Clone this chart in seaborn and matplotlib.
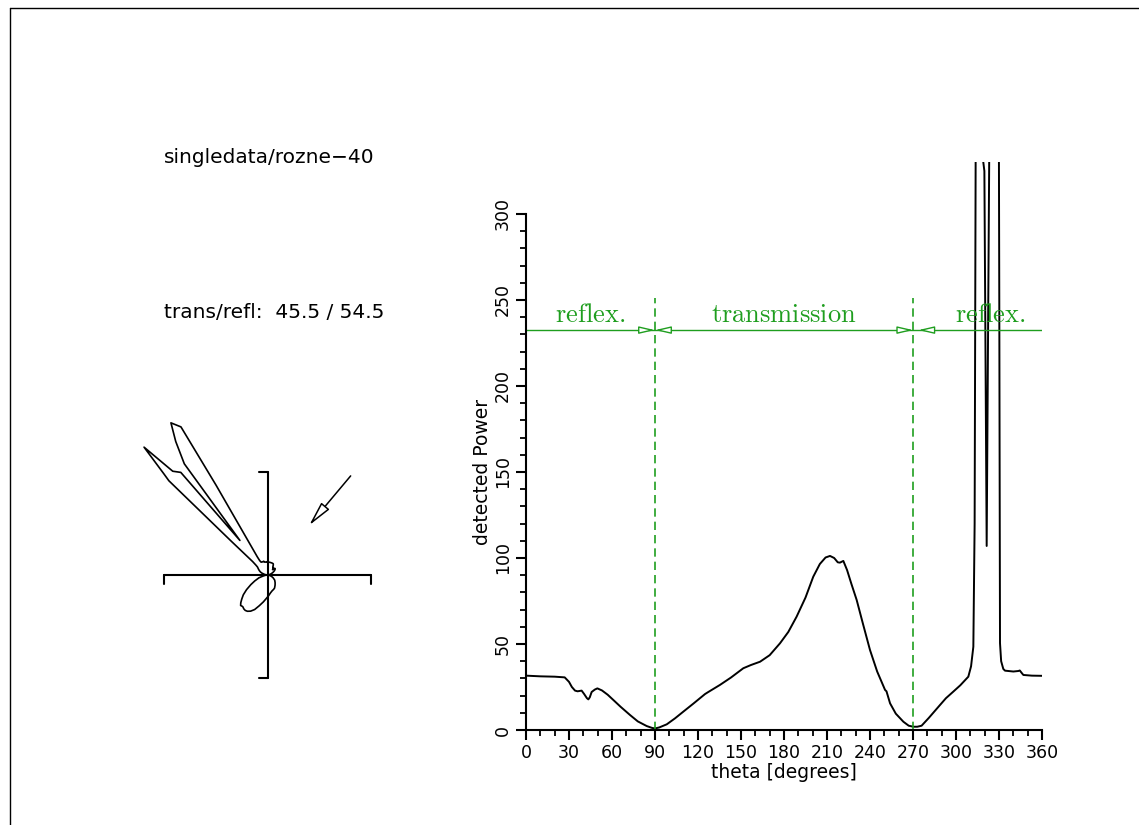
import numpy as np
import pandas as pd
import matplotlib
matplotlib.use("Agg")
import matplotlib.pyplot as plt
import seaborn as sns
from matplotlib.lines import Line2D
from matplotlib.ticker import MultipleLocator, FixedLocator

# ---------------- data ----------------
theta_deg = [0, 10, 20, 27, 30, 32, 34.2, 36, 38.8, 40.5, 42.5, 43.5, 44.5, 45.8, 48, 49.8,
             53, 57, 61, 66, 72.6, 78, 84.2, 88, 90, 93, 98.2, 104, 109.8, 117, 124.9, 127,
             135.3, 143, 151.6, 157, 163.3, 170, 177.2, 183, 188.8, 195, 200.4, 205, 209,
             212.1, 215, 217.5, 219, 221.4, 224, 227, 230.7, 235, 240, 245, 250.5, 251.5,
             254, 258, 263.3, 267, 270.2, 273, 276, 281, 288.8, 293, 298.1, 303, 308.6,
             310.5, 312.1, 313.0, 313.7, 314.3, 316.0, 317.6, 319.8, 321.4, 323.2, 325.5,
             327.6, 329.7, 330.2, 330.7, 331.5, 333, 334.2, 340, 343.5, 344.5, 346, 347,
             353, 360]
power = [31.6, 31.2, 31.0, 30.6, 28.0, 25.0, 22.9, 22.5, 22.9, 21.0, 18.5, 17.8, 19.0, 22.1,
         23.5, 24.2, 23.0, 20.5, 17.4, 13.5, 8.7, 5.0, 2.3, 1.2, 0.9, 1.5, 3.3, 6.8, 10.7,
         15.5, 20.9, 22.0, 26.2, 30.5, 35.9, 37.8, 39.7, 43.5, 50.4, 57.0, 65.9, 77.0, 89.1,
         96.5, 100.3, 101.2, 100.0, 97.5, 97.3, 98.3, 93.0, 85.0, 75.6, 62.0, 46.5, 34.0,
         23.3, 22.5, 15.5, 9.5, 4.8, 2.5, 1.9, 1.9, 2.5, 7.0, 14.5, 18.5, 22.3, 26.0, 31.0,
         37.0, 48.4, 120.0, 330.0, 350.0, 430.0, 340.0, 325.0, 107.0, 336.0, 392.0, 436.0,
         415.0, 250.0, 50.5, 40.0, 35.5, 34.5, 34.0, 34.3, 34.6, 33.0, 32.0, 31.6, 31.5]

x_ticks = list(range(0, 361, 30))
y_ticks = list(range(0, 301, 50))
y_minor = list(range(0, 301, 10))
region_labels = ["reflex.", "transmission", "reflex."]
region_label_x = [45, 180, 324]
region_bounds = [90, 270]
header_text = "singledata/rozne\u221240"
ratio_text = "trans/refl:  45.5 / 54.5"
incident_angle = 40

df = pd.DataFrame({"theta": theta_deg, "power": power})
df["theta_rad"] = np.deg2rad(df["theta"])

# ---------------- style ----------------
sns.set_style("ticks")
plt.rcParams["font.family"] = ["DejaVu Sans"]
plt.rcParams["mathtext.fontset"] = "cm"
for k in ["text.color", "axes.labelcolor", "xtick.color", "ytick.color", "axes.edgecolor"]:
    plt.rcParams[k] = "black"
GREEN = "#1f9e1f"

W, H = 1139, 825
fig = plt.figure(figsize=(W / 100, H / 100), dpi=100)
fig.patch.set_facecolor("white")


def fx(px):
    return px / W


def fy(py):
    return 1 - py / H


# frame
fig.add_artist(Line2D([fx(10), 1], [fy(8), fy(8)], color="black", lw=1))
fig.add_artist(Line2D([fx(10), fx(10)], [0, fy(8)], color="black", lw=1))

# ---------------- main axes ----------------
ax = fig.add_axes([fx(526), fy(730), 516 / W, (730 - 162.4) / H])
ax.set_facecolor("none")
sns.lineplot(data=df, x="theta", y="power", ax=ax, color="black", lw=1.4,
             sort=False, estimator=None)
ax.set_xlim(0, 360)
ax.set_ylim(0, 330)
ax.set_xticks(x_ticks)
ax.set_yticks(y_ticks)
ax.xaxis.set_minor_locator(MultipleLocator(10))
ax.yaxis.set_minor_locator(FixedLocator(y_minor))
for s in ["top", "right"]:
    ax.spines[s].set_visible(False)
ax.spines["left"].set_bounds(0, 300)
for s in ["left", "bottom"]:
    ax.spines[s].set_linewidth(1.5)
ax.tick_params(which="major", direction="out", length=7, width=1.5, labelsize=12.5, pad=3,
               colors="black")
ax.tick_params(which="minor", direction="out", length=4, width=1.3, colors="black")
for lab in ax.get_yticklabels():
    lab.set_rotation(90)
    lab.set_va("center")
ax.set_ylabel("detected Power", fontsize=13.5, color="black")
ax.yaxis.set_label_coords(-0.066, 150 / 330)
ax.set_xlabel("theta [degrees]", fontsize=13.5, color="black")
ax.xaxis.set_label_coords(0.5, -0.058)

# region annotations
yarr = 232.5
for b in region_bounds:
    ax.plot([b, b], [0, 251], color=GREEN, lw=1.2, ls=(0, (5, 3)))
ax.plot([0, 360], [yarr, yarr], color=GREEN, lw=1)
astyle = dict(arrowstyle="-|>,head_length=0.95,head_width=0.22", fc="white", ec=GREEN,
              lw=1, shrinkA=0, shrinkB=0)
for tip, tail in [(90, 80), (90, 100), (270.2, 260), (273.7, 284)]:
    ax.annotate("", xy=(tip, yarr), xytext=(tail, yarr), arrowprops=astyle)
for lab, xl in zip(region_labels, region_label_x):
    ax.text(xl, 237, r"$\mathrm{" + lab + "}$", ha="center", va="baseline",
            color=GREEN, fontsize=19)

# ---------------- polar diagram ----------------
R = 450
cx, cy, rad_px = 267.5, 575, 186
rect = [fx(cx - rad_px), fy(cy + rad_px), 2 * rad_px / W, 2 * rad_px / H]
pax = fig.add_axes(rect, projection="polar")
pax.set_theta_zero_location("N")
pax.set_theta_direction(-1)
sns.lineplot(data=df, x="theta_rad", y="power", ax=pax, color="black", lw=1.2,
             sort=False, estimator=None)
pax.set_rlim(0, R)
pax.axis("off")
pax.annotate("", xy=(np.deg2rad(incident_angle), 157), xytext=(np.deg2rad(incident_angle), 313),
             arrowprops=dict(arrowstyle="-|>,head_length=1.5,head_width=0.32", fc="white",
                             ec="black", lw=1.1, shrinkA=0, shrinkB=0))

cax = fig.add_axes(rect)
cax.set_xlim(-R, R)
cax.set_ylim(-R, R)
cax.axis("off")
CR, TK = 250, 21
kw = dict(color="black", lw=1.5)
cax.plot([-CR, CR], [0, 0], **kw)
cax.plot([-CR, -CR], [0, -TK], **kw)
cax.plot([CR, CR], [0, -TK], **kw)
cax.plot([0, 0], [-CR, CR], **kw)
cax.plot([0, -TK], [CR, CR], **kw)
cax.plot([0, -TK], [-CR, -CR], **kw)

# ---------------- header texts ----------------
fig.text(fx(164), fy(163), header_text, fontsize=14.5, va="baseline", ha="left", color="black")
fig.text(fx(164), fy(318), ratio_text, fontsize=14.5, va="baseline", ha="left", color="black")

fig.savefig("out.png", dpi=100, facecolor="white")
